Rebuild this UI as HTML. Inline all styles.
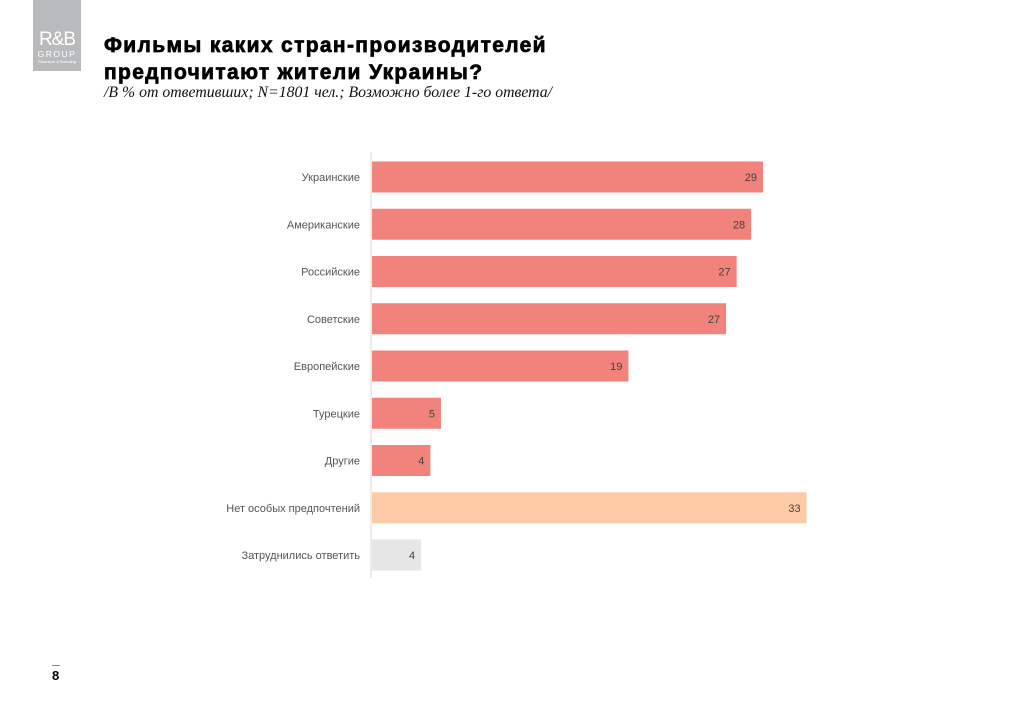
<!DOCTYPE html>
<html><head><meta charset="utf-8"><style>
body{margin:0;width:1024px;height:709px;background:#fff;position:relative;overflow:hidden;font-family:"Liberation Sans",sans-serif}
.logo{position:absolute;left:33px;top:0;width:48px;height:71px;background:#b9babc;color:#fff;text-align:center}
.t{position:absolute;left:104px;font-weight:bold;font-size:21px;color:#000;letter-spacing:1.35px;-webkit-text-stroke:0.7px #000}
.sub{position:absolute;left:104px;top:84px;font-family:"Liberation Serif",serif;font-style:italic;font-size:15.8px;color:#111}
</style></head><body>
<div class="logo">
<div style="position:absolute;top:29px;width:48px;font-size:19px;letter-spacing:-1px">R&amp;B</div>
<div style="position:absolute;top:49px;width:48px;font-size:8.5px;letter-spacing:1.5px">GROUP</div>
<div style="position:absolute;top:59px;width:48px;font-size:4px">Research &amp; Branding</div>
</div>
<div class="t" style="top:34px">Фильмы каких стран-производителей</div>
<div class="t" style="top:61px">предпочитают жители Украины?</div>
<div class="sub">/В % от ответивших; N=1801 чел.; Возможно более 1-го ответа/</div>
<svg id="chart" width="1024" height="709" style="position:absolute;left:0;top:0"></svg>
<div style="position:absolute;left:52px;top:665px;width:8px;height:1px;background:#888"></div>
<div style="position:absolute;left:52px;top:668px;font-size:13px;font-weight:bold">8</div>
<script>
const categories=["Украинские","Американские","Российские","Советские","Европейские","Турецкие","Другие","Нет особых предпочтений","Затруднились ответить"];
const values=[29.7,28.8,27.7,26.9,19.5,5.3,4.5,33,3.8];
const labels=["29","28","27","27","19","5","4","33","4"];
const colors=["#f2827c","#f2827c","#f2827c","#f2827c","#f2827c","#f2827c","#f2827c","#fccba5","#e6e6e6"];
const svg=document.getElementById('chart');const NS="http://www.w3.org/2000/svg";
const x0=371,scale=13.2,yTop=177,step=47.25,bh=31;
const xs=v=>x0+v*scale, ys=i=>yTop+i*step;
const ax=document.createElementNS(NS,'line');


ax.setAttribute('x1',x0);ax.setAttribute('x2',x0);ax.setAttribute('y1',152);ax.setAttribute('y2',578);ax.setAttribute('stroke','#d9d9d9');svg.appendChild(ax);
categories.forEach((c,i)=>{
 const r=document.createElementNS(NS,'rect');
 
 
 r.setAttribute('x',x0+1);r.setAttribute('y',ys(i)-bh/2);r.setAttribute('width',xs(values[i])-x0-1);r.setAttribute('height',bh);r.setAttribute('fill',colors[i]);svg.appendChild(r);
 const t=document.createElementNS(NS,'text');
 
 
 t.setAttribute('x',360);t.setAttribute('y',ys(i)+4);t.setAttribute('text-anchor','end');t.setAttribute('font-size','11');t.setAttribute('fill','#555');t.setAttribute('font-family','Liberation Sans, sans-serif');t.textContent=c;svg.appendChild(t);
 const v=document.createElementNS(NS,'text');
 
 
 v.setAttribute('x',xs(values[i])-6);v.setAttribute('y',ys(i)+4);v.setAttribute('text-anchor','end');v.setAttribute('font-size','11');v.setAttribute('fill','#444');v.setAttribute('font-family','Liberation Sans, sans-serif');v.textContent=labels[i];svg.appendChild(v);
});
</script>
</body></html>
